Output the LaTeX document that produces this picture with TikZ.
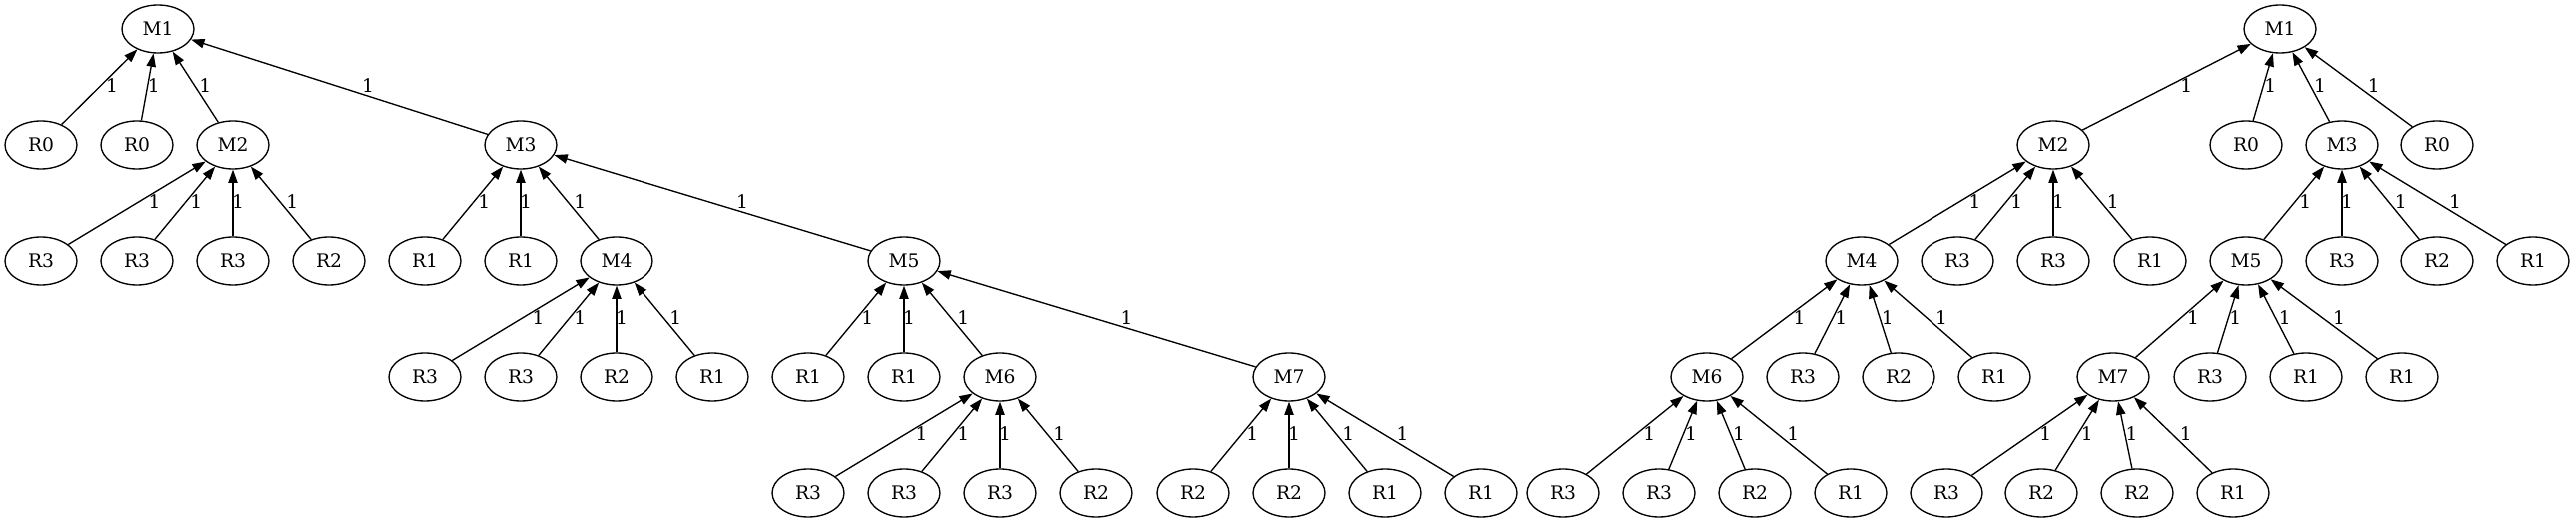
\documentclass[tikz,border=0pt]{standalone}
\usepackage{fontspec}
\setmainfont{DejaVu Serif}
\usepackage{tikz}
\usetikzlibrary{shapes.geometric,arrows.meta,calc}

\begin{document}
\begin{tikzpicture}[x=0.75pt, y=-0.75pt,
    nd/.style={draw, ellipse, line width=1pt, minimum width=54pt, minimum height=36pt, inner sep=0pt, font=\fontsize{14pt}{16pt}\selectfont},
    lbl/.style={inner sep=0pt, font=\fontsize{14pt}{16pt}\selectfont},
    arr/.style={line width=1pt, -{Triangle[length=10pt, width=7pt]}}]
 	\useasboundingbox (0,0) rectangle (2578,523);
 	% left tree
 	\node[nd] (aM1) at (158,29) {M1};
 	\node[nd] (aR0a) at (41,145) {R0};
 	\node[nd] (aR0b) at (137,145) {R0};
 	\node[nd] (aM2) at (233,145) {M2};
 	\node[nd] (aM3) at (521,145) {M3};
 	\node[nd] (aR3a) at (41,261) {R3};
 	\node[nd] (aR3b) at (137,261) {R3};
 	\node[nd] (aR3c) at (233,261) {R3};
 	\node[nd] (aR2a) at (329,261) {R2};
 	\node[nd] (aR1a) at (425,261) {R1};
 	\node[nd] (aR1b) at (521,261) {R1};
 	\node[nd] (aM4) at (617,261) {M4};
 	\node[nd] (aM5) at (905,261) {M5};
 	\node[nd] (aR3d) at (425,377) {R3};
 	\node[nd] (aR3e) at (521,377) {R3};
 	\node[nd] (aR2b) at (617,377) {R2};
 	\node[nd] (aR1c) at (713,377) {R1};
 	\node[nd] (aR1d) at (809,377) {R1};
 	\node[nd] (aR1e) at (905,377) {R1};
 	\node[nd] (aM6) at (1001,377) {M6};
 	\node[nd] (aM7) at (1290,377) {M7};
 	\node[nd] (aR3f) at (809,493) {R3};
 	\node[nd] (aR3g) at (905,493) {R3};
 	\node[nd] (aR3h) at (1001,493) {R3};
 	\node[nd] (aR2c) at (1097,493) {R2};
 	\node[nd] (aR2d) at (1194,493) {R2};
 	\node[nd] (aR2e) at (1290,493) {R2};
 	\node[nd] (aR1f) at (1386,493) {R1};
 	\node[nd] (aR1g) at (1482,493) {R1};
 	% right tree
 	\node[nd] (bM1) at (2282,29) {M1};
 	\node[nd] (bM2) at (2055,145) {M2};
 	\node[nd] (bR0a) at (2248,145) {R0};
 	\node[nd] (bM3) at (2344,145) {M3};
 	\node[nd] (bR0b) at (2439,145) {R0};
 	\node[nd] (bM4) at (1863,261) {M4};
 	\node[nd] (bR3a) at (1959,261) {R3};
 	\node[nd] (bR3b) at (2055,261) {R3};
 	\node[nd] (bR1a) at (2152,261) {R1};
 	\node[nd] (bM5) at (2248,261) {M5};
 	\node[nd] (bR3c) at (2344,261) {R3};
 	\node[nd] (bR2a) at (2439,261) {R2};
 	\node[nd] (bR1b) at (2535,261) {R1};
 	\node[nd] (bM6) at (1708,377) {M6};
 	\node[nd] (bR3d) at (1804,377) {R3};
 	\node[nd] (bR2b) at (1900,377) {R2};
 	\node[nd] (bR1c) at (1996,377) {R1};
 	\node[nd] (bM7) at (2115,377) {M7};
 	\node[nd] (bR3e) at (2212,377) {R3};
 	\node[nd] (bR1d) at (2308,377) {R1};
 	\node[nd] (bR1e) at (2404,377) {R1};
 	\node[nd] (bR3f) at (1564,493) {R3};
 	\node[nd] (bR3g) at (1660,493) {R3};
 	\node[nd] (bR2c) at (1756,493) {R2};
 	\node[nd] (bR1f) at (1852,493) {R1};
 	\node[nd] (bR3h) at (1948,493) {R3};
 	\node[nd] (bR2d) at (2043,493) {R2};
 	\node[nd] (bR2e) at (2139,493) {R2};
 	\node[nd] (bR1g) at (2235,493) {R1};
 	% edges, label 1 on each
 	\foreach \mom/\kids in {aM1/{aR0a,aR0b,aM2,aM3}, aM2/{aR3a,aR3b,aR3c,aR2a},
 	    aM3/{aR1a,aR1b,aM4,aM5}, aM4/{aR3d,aR3e,aR2b,aR1c}, aM5/{aR1d,aR1e,aM6,aM7},
 	    aM6/{aR3f,aR3g,aR3h,aR2c}, aM7/{aR2d,aR2e,aR1f,aR1g},
 	    bM1/{bM2,bR0a,bM3,bR0b}, bM2/{bM4,bR3a,bR3b,bR1a}, bM3/{bM5,bR3c,bR2a,bR1b},
 	    bM4/{bM6,bR3d,bR2b,bR1c}, bM5/{bM7,bR3e,bR1d,bR1e},
 	    bM6/{bR3f,bR3g,bR2c,bR1f}, bM7/{bR3h,bR2d,bR2e,bR1g}}
 	  \foreach \kid in \kids
 	    \draw[arr] let \p1=(\kid), \p2=(\mom) in (\kid) -- (\mom)
 	      node[lbl, midway, xshift={3.75pt+0.065*abs(\x2-\x1)}, yshift=1pt] {1};
\end{tikzpicture}
\end{document}
